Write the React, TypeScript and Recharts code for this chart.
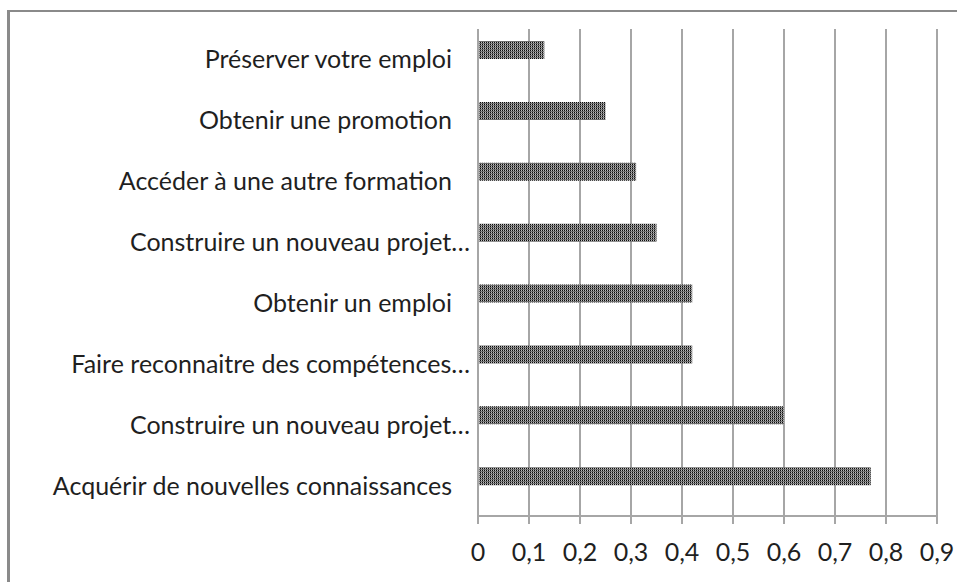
import React from 'react';
import { BarChart, Bar, XAxis, YAxis, CartesianGrid } from 'recharts';

const categories = [
  'Préserver votre emploi',
  'Obtenir une promotion',
  'Accéder à une autre formation',
  'Construire un nouveau projet…',
  'Obtenir un emploi',
  'Faire reconnaitre des compétences…',
  'Construire un nouveau projet…',
  'Acquérir de nouvelles connaissances',
];
const serie1 = [0.13, 0.25, 0.31, 0.35, 0.42, 0.42, 0.6, 0.77];
const serie2 = [0, 0, 0, 0, 0, 0, 0, 0];
const xTicks = [0, 0.1, 0.2, 0.3, 0.4, 0.5, 0.6, 0.7, 0.8, 0.9];
const bandTicks = [0, 1, 2, 3, 4, 5, 6, 7, 8];

const data = categories.map((c, i) => ({ cat: c, s1: serie1[i], s2: serie2[i] }));

const FONT = 'Lato, "Open Sans", sans-serif';
const GRID = '#a6a6a6';
const TEXT = '#1f1f1f';

const CatTick = (props: any) => {
  const { x, y, payload } = props;
  const label: string = String(payload.value);
  const truncated = label.endsWith('…');
  return (
    <text
      x={truncated ? x : x - 18}
      y={y}
      dy="0.36em"
      textAnchor="end"
      fontFamily={FONT}
      fontSize={25}
      fill={TEXT}
    >
      {label}
    </text>
  );
};

export default function App() {
  return (
    <div style={{ position: 'absolute', left: 0, top: 0, width: 957, height: 582 }}>
      <div
        style={{
          position: 'absolute',
          left: 7,
          top: 10,
          width: 950,
          height: 572,
          borderLeft: '3px solid #8a8a8a',
          borderTop: '2px solid #8a8a8a',
          boxSizing: 'border-box',
        }}
      />
      <svg width={0} height={0} style={{ position: 'absolute' }}>
        <defs>
          <pattern id="dots" patternUnits="userSpaceOnUse" x={0} y={0} width={2} height={2}>
            <rect x={0} y={0} width={2} height={2} fill="#6e6e6e" />
            <rect x={0} y={0} width={1} height={1} fill="#0a0a0a" />
            <rect x={1} y={0} width={1} height={1} fill="#bdbdbd" />
          </pattern>
        </defs>
      </svg>
      <div style={{ position: 'absolute', left: 0, top: 0 }}>
        <BarChart
          width={957}
          height={582}
          data={data}
          layout="vertical"
          margin={{ top: 29, right: 20, left: 0, bottom: 36 }}
          barGap={0}
          barSize={18}
        >
          <CartesianGrid horizontal={false} stroke={GRID} strokeWidth={2} strokeDasharray="" />
          <XAxis
            type="number"
            domain={[0, 0.9]}
            ticks={xTicks}
            allowDataOverflow
            height={30}
            tickSize={8}
            tickMargin={19}
            axisLine={{ stroke: GRID, strokeWidth: 2 }}
            tickLine={{ stroke: GRID, strokeWidth: 2 }}
            tick={{ fontFamily: FONT, fontSize: 25, fill: TEXT }}
            tickFormatter={(v: number) => String(v).replace('.', ',')}
            interval={0}
          />
          <YAxis
            yAxisId="cat"
            type="category"
            dataKey="cat"
            width={478}
            axisLine={{ stroke: GRID, strokeWidth: 2 }}
            tickLine={false}
            tick={<CatTick />}
            interval={0}
          />
          <YAxis
            yAxisId="band"
            type="number"
            domain={[0, 8]}
            ticks={bandTicks}
            allowDataOverflow
            width={0}
            axisLine={false}
            tick={false}
            tickSize={8}
            tickLine={{ stroke: GRID, strokeWidth: 2 }}
            interval={0}
          />
          <Bar yAxisId="cat" dataKey="s1" fill="url(#dots)" isAnimationActive={false} />
          <Bar yAxisId="cat" dataKey="s2" fill="transparent" isAnimationActive={false} />
        </BarChart>
      </div>
    </div>
  );
}
